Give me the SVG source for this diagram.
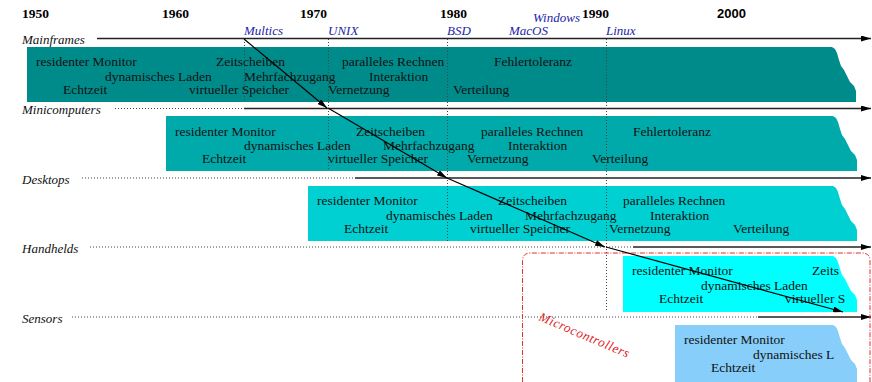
<svg xmlns="http://www.w3.org/2000/svg" width="872" height="382" viewBox="0 0 872 382">
<style>
.yr{font-family:"Liberation Serif",serif;font-weight:bold;font-size:13.5px;fill:#000}
.yrs{font-family:"Liberation Sans",sans-serif;font-weight:bold;font-size:13px;fill:#000}
.row{font-family:"Liberation Serif",serif;font-style:italic;font-size:13px;fill:#111}
.os{font-family:"Liberation Serif",serif;font-style:italic;font-size:13px;fill:#2424a8}
.t{font-family:"Liberation Serif",serif;font-size:13.5px;fill:#111}
.axis{stroke:#222;stroke-width:1.3;fill:none}
.dot{stroke:#444;stroke-width:1;stroke-dasharray:1 2;fill:none}
.vdot{stroke:#444;stroke-width:1;stroke-dasharray:1 2;fill:none}
.conn{stroke:#000;stroke-width:1.2;fill:none}
.mc{stroke:#e03030;stroke-width:1;stroke-dasharray:5 1.5 1 1.5;fill:none}
.mct{font-family:"Liberation Serif",serif;font-style:italic;font-size:13px;letter-spacing:0.6px;fill:#e02020}
</style>
<defs>
<marker id="ah" viewBox="0 0 10 6" refX="10" refY="3" markerWidth="10" markerHeight="6" markerUnits="userSpaceOnUse" orient="auto"><path d="M0,0 L10,3 L0,6 z" fill="#000"/></marker>
</defs>

<g id="years">
<text class="yr" x="22" y="18">1950</text>
<text class="yr" x="162" y="18">1960</text>
<text class="yr" x="300" y="18">1970</text>
<text class="yr" x="440" y="18">1980</text>
<text class="yr" x="582" y="18">1990</text>
<text class="yrs" x="717" y="18">2000</text>
</g>

<g id="os-labels">
<text class="os" x="244" y="35">Multics</text>
<text class="os" x="328" y="35">UNIX</text>
<text class="os" x="447" y="35">BSD</text>
<text class="os" x="509" y="35">MacOS</text>
<text class="os" x="533" y="22">Windows</text>
<text class="os" x="606" y="35">Linux</text>
</g>

<g id="band-mainframes">
<path fill="#008b8b" d="M27,47 H832 L835,49 L837,53 L839,60 L841,66 L844,70 L847,76 L850,82 L854,86 L856,91 L856,102 H27 Z"/>
<text class="t" x="36" y="66">residenter Monitor</text>
<text class="t" x="105" y="81">dynamisches Laden</text>
<text class="t" x="63" y="94">Echtzeit</text>
<text class="t" x="216" y="66">Zeitscheiben</text>
<text class="t" x="244" y="81">Mehrfachzugang</text>
<text class="t" x="189" y="94">virtueller Speicher</text>
<text class="t" x="342" y="66">paralleles Rechnen</text>
<text class="t" x="369" y="81">Interaktion</text>
<text class="t" x="328" y="94">Vernetzung</text>
<text class="t" x="494" y="66">Fehlertoleranz</text>
<text class="t" x="453" y="94">Verteilung</text>
</g>
<g id="band-minicomputers">
<path fill="#00aaaa" d="M166,116 H833 L836,118 L838,122 L840,129 L842,135 L845,139 L848,145 L851,151 L855,155 L857,160 L857,171 H166 Z"/>
<text class="t" x="175" y="136">residenter Monitor</text>
<text class="t" x="244" y="150">dynamisches Laden</text>
<text class="t" x="202" y="163">Echtzeit</text>
<text class="t" x="356" y="136">Zeitscheiben</text>
<text class="t" x="383" y="150">Mehrfachzugang</text>
<text class="t" x="328" y="163">virtueller Speicher</text>
<text class="t" x="481" y="136">paralleles Rechnen</text>
<text class="t" x="508" y="150">Interaktion</text>
<text class="t" x="467" y="163">Vernetzung</text>
<text class="t" x="633" y="136">Fehlertoleranz</text>
<text class="t" x="592" y="163">Verteilung</text>
</g>
<g id="band-desktops">
<path fill="#00d0d2" d="M308,186 H833 L836,188 L838,192 L840,199 L842,205 L845,209 L848,215 L851,221 L855,225 L857,230 L857,241 H308 Z"/>
<text class="t" x="317" y="205">residenter Monitor</text>
<text class="t" x="386" y="220">dynamisches Laden</text>
<text class="t" x="344" y="233">Echtzeit</text>
<text class="t" x="498" y="205">Zeitscheiben</text>
<text class="t" x="525" y="220">Mehrfachzugang</text>
<text class="t" x="470" y="233">virtueller Speicher</text>
<text class="t" x="623" y="205">paralleles Rechnen</text>
<text class="t" x="650" y="220">Interaktion</text>
<text class="t" x="609" y="233">Vernetzung</text>
<text class="t" x="733" y="233">Verteilung</text>
</g>
<g id="band-handhelds">
<path fill="#00ffff" d="M623,256 H833 L836,258 L838,262 L840,269 L842,275 L845,279 L848,285 L851,291 L855,295 L857,300 L857,312 H623 Z"/>
<text class="t" x="632" y="275">residenter Monitor</text>
<text class="t" x="701" y="290">dynamisches Laden</text>
<text class="t" x="659" y="303">Echtzeit</text>
<text class="t" x="812" y="275">Zeits</text>
<text class="t" x="785" y="303">virtueller S</text>
</g>
<g id="band-sensors">
<path fill="#87cefa" d="M675,325 H833 L836,327 L838,331 L840,338 L842,344 L845,348 L848,354 L851,360 L855,364 L857,369 L857,382 H675 Z"/>
<text class="t" x="684" y="344">residenter Monitor</text>
<text class="t" x="753" y="359">dynamisches L</text>
<text class="t" x="711" y="372">Echtzeit</text>
</g>

<g id="row-mainframes">
<text class="row" x="22" y="44">Mainframes</text>
<line class="axis" x1="97" y1="38.5" x2="871" y2="38.5" marker-end="url(#ah)"/>
</g>
<g id="row-minicomputers">
<text class="row" x="22" y="114">Minicomputers</text>
<line class="dot" x1="115" y1="108.5" x2="244" y2="108.5"/>
<line class="axis" x1="244" y1="108.5" x2="871" y2="108.5" marker-end="url(#ah)"/>
</g>
<g id="row-desktops">
<text class="row" x="22" y="184">Desktops</text>
<line class="dot" x1="82" y1="178" x2="355" y2="178"/>
<line class="axis" x1="355" y1="178" x2="871" y2="178" marker-end="url(#ah)"/>
</g>
<g id="row-handhelds">
<text class="row" x="22" y="253">Handhelds</text>
<line class="dot" x1="90" y1="247" x2="633" y2="247"/>
<line class="axis" x1="633" y1="247" x2="871" y2="247" marker-end="url(#ah)"/>
</g>
<g id="row-sensors">
<text class="row" x="22" y="323">Sensors</text>
<line class="dot" x1="72" y1="317" x2="758" y2="317"/>
<line class="axis" x1="758" y1="317" x2="871" y2="317" marker-end="url(#ah)"/>
</g>

<g id="release-lines">
<line class="vdot" x1="244.5" y1="39" x2="244.5" y2="102"/>
<line class="vdot" x1="328.5" y1="39" x2="328.5" y2="171"/>
<line class="vdot" x1="447.5" y1="39" x2="447.5" y2="241"/>
<line class="vdot" x1="606.5" y1="39" x2="606.5" y2="312"/>
</g>

<g id="microcontrollers">
<path class="mc" d="M522.5,382 V261 Q522.5,253 530.5,253 H862 Q870,253 870,261 V382"/>
<text class="mct" transform="translate(538,320) rotate(23)">Microcontrollers</text>
</g>

<g id="connectors">
<line class="conn" x1="244" y1="39" x2="327" y2="108" marker-end="url(#ah)"/>
<line class="conn" x1="328" y1="108" x2="447" y2="178" marker-end="url(#ah)"/>
<line class="conn" x1="447" y1="178" x2="605" y2="247" marker-end="url(#ah)"/>
<line class="conn" x1="606" y1="247" x2="843" y2="312" marker-end="url(#ah)"/>
</g>
</svg>
